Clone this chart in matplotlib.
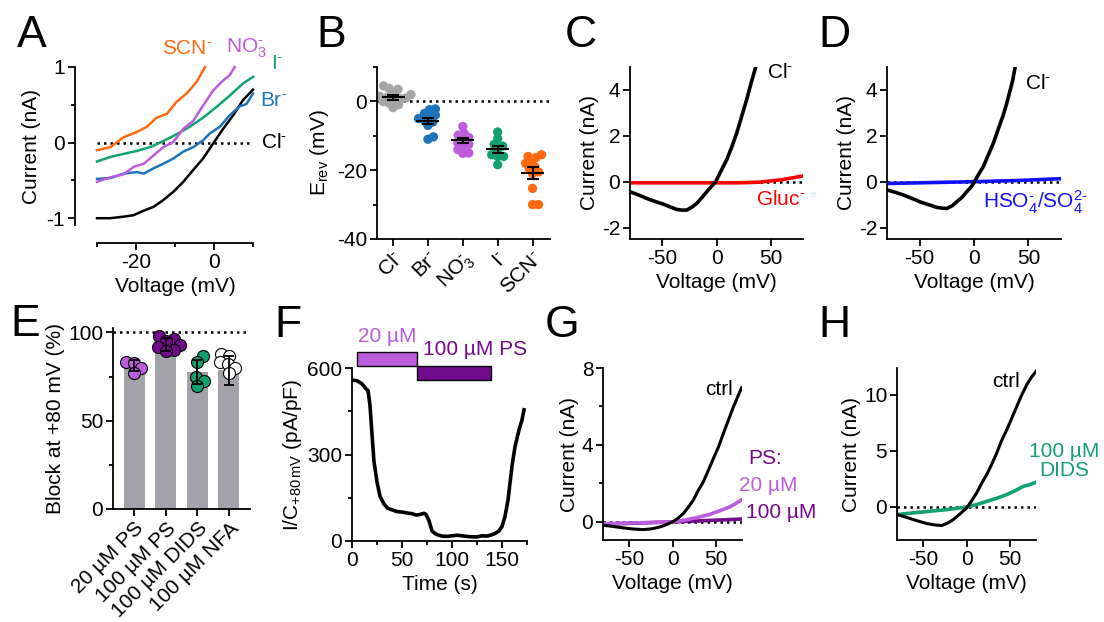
import numpy as np
import matplotlib
matplotlib.use("Agg")
import matplotlib.pyplot as plt
from matplotlib.patches import Rectangle

plt.rcParams['font.family'] = ['Liberation Sans', 'DejaVu Sans']
plt.rcParams['mathtext.fontset'] = 'custom'
plt.rcParams['mathtext.rm'] = 'Liberation Sans'
plt.rcParams['mathtext.it'] = 'Liberation Sans:italic'
plt.rcParams['mathtext.bf'] = 'Liberation Sans:bold'
plt.rcParams['mathtext.default'] = 'regular'
plt.rcParams['axes.unicode_minus'] = False

# ── colours ──
BLACK = "#000000"
ORANGE = "#ff6a10"
LPURPLE = "#bb5ddc"
DPURPLE = "#730a8c"
GREEN = "#12a070"
BLUE = "#1f73b8"
GRAY = "#a6a6a6"
BARGRAY = "#a3a2a8"
RED = "#ff0000"
PBLUE = "#1010ff"

M = r"^{\text{-}}"   # short superscript minus, as in the original

# ── A: I-V ramps, different anions ──
a_v_cl = [-30, -26.6, -23.2, -20.6, -18, -15.5, -13, -10.4, -7.9, -5.3, -2.8, -0.2, 2.3, 4.9, 7.4, 10]
a_i_cl = [-1.0, -1.0, -0.98, -0.96, -0.9, -0.85, -0.76, -0.65, -0.52, -0.36, -0.21, -0.01, 0.18, 0.36, 0.56, 0.70]
a_v_br = [-30, -26.6, -23.2, -19.8, -18, -15.5, -13, -10.4, -7.9, -5.3, -2.8, -1.1, 1.5, 4, 6.6, 8.3, 10]
a_i_br = [-0.48, -0.47, -0.41, -0.39, -0.41, -0.34, -0.28, -0.21, -0.12, -0.06, 0.03, 0.12, 0.21, 0.36, 0.48, 0.51, 0.65]
a_v_no3 = [-30, -26.6, -23.2, -20.6, -18, -15.5, -13, -10.4, -7.9, -5.3, -2.8, -0.2, 2.3, 4, 5.3]
a_i_no3 = [-0.52, -0.46, -0.42, -0.32, -0.28, -0.17, -0.06, 0.01, 0.18, 0.29, 0.49, 0.69, 0.82, 0.89, 1.0]
a_v_i = [-30, -26.6, -23.2, -19.8, -16.4, -13, -9.6, -6.2, -2.8, 0.6, 4, 7.4, 10]
a_i_i = [-0.25, -0.19, -0.15, -0.11, -0.06, 0.02, 0.11, 0.21, 0.33, 0.47, 0.62, 0.78, 0.87]
a_v_scn = [-30, -26.6, -23.2, -19.8, -17.2, -14.7, -12.1, -9.6, -7, -4.5, -2.3]
a_i_scn = [-0.1, -0.06, 0.07, 0.14, 0.21, 0.33, 0.38, 0.54, 0.65, 0.80, 1.0]

# ── B: reversal potentials ──
b_labels = ["Cl$" + M + "$", "Br$" + M + "$", "NO$_3" + M + "$", "I$" + M + "$", "SCN$" + M + "$"]
b_cl = [4.5, 3.5, 3.8, 2.5, 2, 1.5, 1, 0.5, 0, -0.5, -1, -1.8, 0.8, 1.2]
b_br = [-2.2, -2.4, -3.5, -4, -4.5, -5, -5.5, -6, -7, -10.3, -11]
b_no3 = [-7.3, -9.3, -9.8, -10.5, -11, -12, -12.5, -13, -14, -15, -15.1]
b_i = [-8.9, -10.8, -12.5, -13, -14, -15.5, -16, -16, -18.4]
b_scn = [-15.5, -16, -16.3, -17.5, -18, -19, -19.5, -20.5, -21, -25.3, -30, -30]
b_mean = [1.2, -5.7, -11.3, -13.9, -20.8]
b_sem = [0.7, 0.9, 0.8, 1.0, 1.8]

# ── C / D: Cl- vs impermeant anions ──
c_v_cl = [-80, -72, -64.6, -57, -49.2, -43, -36.8, -32, -27.6, -23, -18.3, -14, -9, -5, -0.7,
          4, 9.4, 14, 18.7, 23, 27.9, 32, 36.5]
c_i_cl = [-0.44, -0.58, -0.73, -0.86, -0.98, -1.1, -1.21, -1.24, -1.24, -1.12, -0.95, -0.72,
          -0.44, -0.22, 0.0, 0.45, 0.95, 1.5, 2.12, 2.8, 3.58, 4.3, 5.04]
c_v_gluc = [-80, -40, 0, 20, 40, 60, 80]
c_i_gluc = [-0.05, -0.05, -0.05, -0.05, -0.02, 0.08, 0.25]
d_v_cl = [-80, -72, -65, -57, -49.7, -42, -34.3, -30, -25, -20, -16, -11, -6.7, -3, 0, 4, 8.6,
          13, 17.8, 22, 27, 30, 33, 35.5, 37.7]
d_i_cl = [-0.36, -0.47, -0.58, -0.73, -0.88, -1.0, -1.12, -1.15, -1.17, -1.05, -0.88, -0.68,
          -0.44, -0.25, -0.04, 0.3, 0.66, 1.15, 1.68, 2.25, 2.92, 3.4, 3.94, 4.4, 4.96]
d_v_so4 = [-80, -40, 0, 40, 80]
d_i_so4 = [-0.08, -0.04, 0.0, 0.05, 0.13]

# ── E: block at +80 mV ──
e_labels = ["20 µM PS", "100 µM PS", "100 µM DIDS", "100 µM NFA"]
e_mean = [81.2, 93.2, 77.5, 78.5]
e_sd = [3.0, 3.5, 6.8, 8.0]
e_ps20 = [83.5, 82.5, 80, 77]
e_ps100 = [98, 96, 95, 93, 91.5, 90, 89.5]
e_dids = [86.5, 83, 74.5, 72.5, 69.5]
e_nfa = [87.5, 86.5, 83, 82, 80, 77]

# ── F: time course ──
f_t = [0, 5, 10, 14, 16, 18, 20, 22, 25, 28, 32, 36, 40, 45, 51, 55, 60, 64, 68, 72, 74, 77, 80,
       83, 86, 90, 95, 100, 105, 110, 117, 125, 130, 135, 140, 143, 147, 150, 153, 156, 160, 163,
       167, 170, 172]
f_y = [558, 556, 545, 528, 522, 470, 370, 275, 205, 155, 128, 113, 108, 102, 100, 97, 95, 90, 92,
       96, 92, 70, 35, 26, 21, 17, 16, 18, 20, 18, 15, 14, 18, 17, 22, 26, 35, 50, 85, 142, 260,
       327, 385, 420, 455]
f_app_lab = ["20 µM", "100 µM PS"]
f_app_start = [5.3, 65]
f_app_end = [65, 139]
f_app_lo = [608, 557]
f_app_hi = [656, 608]

# ── G: PS block ──
g_v_ctrl = [-80, -68, -56.6, -45, -33.6, -24, -14.4, -7, 0, 6, 12.4, 18, 23.9, 29, 35.4, 41, 47,
            53, 58.5, 64, 70, 75, 79.6]
g_i_ctrl = [-0.17, -0.24, -0.31, -0.37, -0.4, -0.36, -0.26, -0.14, 0.0, 0.18, 0.43, 0.75, 1.13,
            1.58, 2.08, 2.65, 3.29, 3.9, 4.59, 5.25, 5.97, 6.5, 6.98]
g_v_ps20 = [-80, -60, -40, -20, 0, 15, 31.6, 42, 50.8, 58, 66, 73, 80]
g_i_ps20 = [-0.09, -0.07, -0.05, -0.02, 0.0, 0.1, 0.26, 0.38, 0.52, 0.64, 0.78, 0.96, 1.16]
g_v_ps100 = [-80, -40, 0, 40, 80]
g_i_ps100 = [-0.12, -0.06, 0.0, 0.07, 0.15]

# ── H: DIDS block ──
h_v_ctrl = [-80, -70, -61.2, -53, -45.8, -37, -28.6, -22, -15.2, -8, 0.2, 6, 11.7, 17, 23.2, 29,
            34.8, 40, 46.3, 52, 57.8, 63, 69.3, 75, 80]
h_i_ctrl = [-0.68, -0.9, -1.13, -1.32, -1.48, -1.6, -1.66, -1.45, -1.13, -0.65, -0.09, 0.55,
            1.25, 2.05, 2.88, 3.8, 4.81, 5.85, 6.88, 7.9, 8.96, 9.9, 10.9, 11.6, 12.1]
h_v_dids = [-80, -67, -53.5, -38, -22.8, -11, 0, 12, 23.2, 35, 46.3, 56, 65.4, 72, 80]
h_i_dids = [-0.68, -0.57, -0.47, -0.35, -0.24, -0.12, 0.0, 0.22, 0.5, 0.78, 1.1, 1.45, 1.84,
            1.97, 2.2]

W, H = 1104, 622
fig = plt.figure(figsize=(W / 100, H / 100), dpi=100)


def add_ax(l, t, r, b):
    return fig.add_axes([l / W, 1 - b / H, (r - l) / W, (b - t) / H])


def style(ax):
    for s in ["top", "right"]:
        ax.spines[s].set_visible(False)
    for s in ["left", "bottom"]:
        ax.spines[s].set_linewidth(1.3)
    ax.tick_params(which="major", direction="out", length=5, width=1.3, labelsize=15, pad=2)
    ax.tick_params(which="minor", direction="out", length=3, width=1.3)


def swarm(vals, x0, sx, sy, d):
    # simple beeswarm: sx, sy = px per data unit, d = min distance px
    placed, out = [], np.zeros(len(vals))
    for i in np.argsort(vals):
        y = vals[i] * sy
        for k in range(400):
            off = (k + 1) // 2 * 0.5 * (1 if k % 2 else -1)
            if all((off - px) ** 2 + (y - py) ** 2 >= d ** 2 for px, py in placed):
                break
        placed.append((off, y))
        out[i] = x0 + off / sx
    return out


FS = 15
DOT = dict(color="black", linestyle=(0, (1, 1.6)), linewidth=1.8, zorder=1)

# ---------- A ----------
ax = add_ax(97, 67, 253, 225)
style(ax)
ax.spines["left"].set_position(("outward", 16))
ax.spines["bottom"].set_position(("outward", 13))
ax.plot([-30, 10], [0, 0], **DOT)
for v, i, c in [(a_v_cl, a_i_cl, BLACK), (a_v_i, a_i_i, GREEN), (a_v_br, a_i_br, BLUE),
                (a_v_no3, a_i_no3, LPURPLE), (a_v_scn, a_i_scn, ORANGE)]:
    ax.plot(v, i, color=c, lw=1.8, clip_on=False)
ax.set_xlim(-30, 10)
ax.set_ylim(-1.09, 1)
ax.set_xticks([-20, 0])
ax.set_xticks([-30, -10, 10], minor=True)
ax.set_yticks([-1, 0, 1])
ax.set_yticks([-0.5, 0.5], minor=True)
ax.set_xlabel("Voltage (mV)", fontsize=FS)
ax.set_ylabel("Current (nA)", fontsize=FS)
ax.text(-6.8, 1.25, "SCN$" + M + "$", color=ORANGE, fontsize=FS, ha="center", va="center")
ax.text(8.3, 1.25, "NO$_3" + M + "$", color=LPURPLE, fontsize=FS, ha="center", va="center")
ax.text(16.2, 1.05, "I$" + M + "$", color=GREEN, fontsize=FS, ha="center", va="center")
ax.text(15.2, 0.56, "Br$" + M + "$", color=BLUE, fontsize=FS, ha="center", va="center")
ax.text(12.0, 0.0, "Cl$" + M + "$", color=BLACK, fontsize=FS, ha="left", va="center")

# ---------- B ----------
ax = add_ax(377, 67, 550, 239)
style(ax)
ax.axhline(0, **DOT)
groups = [b_cl, b_br, b_no3, b_i, b_scn]
cols = [GRAY, BLUE, LPURPLE, GREEN, ORANGE]
for k, (vals, c) in enumerate(zip(groups, cols)):
    xs = swarm(np.array(vals, float), k, 35, 3.45, 6.0)
    ax.scatter(xs, vals, s=45, color=c, edgecolors="none", zorder=2)
    ax.hlines(b_mean[k], k - 0.33, k + 0.33, color="black", lw=1.5, zorder=3)
    ax.errorbar(k, b_mean[k], yerr=b_sem[k], fmt="none", ecolor="black", elinewidth=1.5,
                capsize=4.3, capthick=1.5, zorder=3)
ax.set_xlim(-0.46, 4.5)
ax.set_ylim(-40, 10)
ax.set_yticks([-40, -20, 0])
ax.set_yticks([-30, -10, 10], minor=True)
ax.set_xticks(range(5))
ax.set_xticklabels(b_labels, rotation=45, ha="right", va="top", rotation_mode="anchor", fontsize=FS)
ax.set_ylabel("E$_{rev}$ (mV)", fontsize=FS)

# ---------- C / D ----------
for (l, r), vcl, icl, v2, i2, c2 in [((630, 803), c_v_cl, c_i_cl, c_v_gluc, c_i_gluc, RED),
                                    ((887, 1061), d_v_cl, d_i_cl, d_v_so4, d_i_so4, PBLUE)]:
    ax = add_ax(l, 67, r, 239)
    style(ax)
    ax.plot([-80, 80], [0, 0], **DOT)
    ax.plot(v2, i2, color=c2, lw=2.6, zorder=2)
    ax.plot(vcl, icl, color="black", lw=2.6, zorder=3, solid_joinstyle="round")
    ax.set_xlim(-80, 80)
    ax.set_ylim(-2.5, 5)
    ax.set_xticks([-50, 0, 50])
    ax.set_yticks([-2, 0, 2, 4])
    ax.set_xlabel("Voltage (mV)", fontsize=FS)
    ax.set_ylabel("Current (nA)", fontsize=FS, labelpad=2)
    if c2 == RED:
        ax.text(47, 4.75, "Cl$" + M + "$", fontsize=FS, ha="left", va="center")
        ax.text(36.5, -0.78, "Gluc$" + M + "$", color=RED, fontsize=FS, ha="left", va="center")
    else:
        ax.text(47, 4.3, "Cl$" + M + "$", fontsize=FS, ha="left", va="center")
        ax.text(8.3, -0.91, r"HSO$_4^{\text{-}}$/SO$_4^{\text{2-}}$", color=PBLUE, fontsize=FS,
                ha="left", va="center")

# ---------- E ----------
ax = add_ax(113, 328, 250, 509)
style(ax)
ax.plot([-0.67, 3.62], [100, 100], **DOT)
ex = np.arange(4)
ax.bar(ex, e_mean, width=0.66, color=BARGRAY, zorder=1)
epts = [e_ps20, e_ps100, e_dids, e_nfa]
efc = [LPURPLE, DPURPLE, GREEN, "white"]
for k, (vals, fc) in enumerate(zip(epts, efc)):
    xs = swarm(np.array(vals, float), k, 31.5, 1.76, 8.0)
    ax.scatter(xs, vals, s=75, facecolor=fc, edgecolors="black", linewidths=0.8, zorder=2)
ax.errorbar(ex, e_mean, yerr=e_sd, fmt="none", ecolor="black", elinewidth=1.3, capsize=3.6,
            capthick=1.3, zorder=3)
ax.set_xlim(-0.67, 3.67)
ax.set_ylim(0, 102.5)
ax.set_yticks([0, 50, 100])
ax.set_yticks([25, 75], minor=True)
ax.set_xticks(ex)
ax.set_xticklabels(e_labels, rotation=45, ha="right", va="top", rotation_mode="anchor", fontsize=FS)
ax.set_ylabel("Block at +80 mV (%)", fontsize=FS, labelpad=2)

# ---------- F ----------
ax = add_ax(352, 368, 527, 541)
style(ax)
ax.plot(f_t, f_y, color="black", lw=2.6, solid_joinstyle="round")
fcols = [LPURPLE, DPURPLE]
for k in range(2):
    ax.add_patch(Rectangle((f_app_start[k], f_app_lo[k]), f_app_end[k] - f_app_start[k],
                           f_app_hi[k] - f_app_lo[k], facecolor=fcols[k], edgecolor="black",
                           lw=1.0, clip_on=False, zorder=4))
ax.text(6, 709, f_app_lab[0], color=LPURPLE, fontsize=FS, ha="left", va="center")
ax.text(71, 664, f_app_lab[1], color=DPURPLE, fontsize=FS, ha="left", va="center")
ax.set_xlim(0, 175)
ax.set_ylim(0, 600)
ax.set_xticks([0, 50, 100, 150])
ax.set_xticks([25, 75, 125, 175], minor=True)
ax.set_yticks([0, 300, 600])
ax.set_yticks([150, 450], minor=True)
ax.set_xlabel("Time (s)", fontsize=FS)
ax.set_ylabel("I/C$_{+80\\,mV}$ (pA/pF)", fontsize=FS, labelpad=2)

# ---------- G ----------
ax = add_ax(603, 368, 742, 540)
style(ax)
ax.plot([-80, 80], [0, 0], **DOT)
ax.plot(g_v_ps100, g_i_ps100, color=DPURPLE, lw=2.6, zorder=2)
ax.plot(g_v_ps20, g_i_ps20, color=LPURPLE, lw=2.6, zorder=2)
ax.plot(g_v_ctrl, g_i_ctrl, color="black", lw=2.2, zorder=3)
ax.set_xlim(-80, 80)
ax.set_ylim(-0.94, 8)
ax.set_xticks([-50, 0, 50])
ax.set_yticks([0, 4, 8])
ax.set_yticks([2, 6], minor=True)
ax.set_xlabel("Voltage (mV)", fontsize=FS)
ax.set_ylabel("Current (nA)", fontsize=FS, labelpad=2)
ax.text(70, 6.9, "ctrl", fontsize=FS, ha="right", va="center")
ax.text(107, 3.3, "PS:", color=DPURPLE, fontsize=FS, ha="center", va="center")
ax.text(110, 1.9, "20 µM", color=LPURPLE, fontsize=FS, ha="center", va="center")
ax.text(85, 0.47, "100 µM", color=DPURPLE, fontsize=FS, ha="left", va="center")

# ---------- H ----------
ax = add_ax(897, 368, 1036, 540)
style(ax)
ax.plot([-80, 80], [0, 0], **DOT)
ax.plot(h_v_dids, h_i_dids, color=GREEN, lw=2.6, zorder=2)
ax.plot(h_v_ctrl, h_i_ctrl, color="black", lw=2.2, zorder=3)
ax.set_xlim(-80, 80)
ax.set_ylim(-2.95, 12.4)
ax.set_xticks([-50, 0, 50])
ax.set_yticks([0, 5, 10])
ax.set_xlabel("Voltage (mV)", fontsize=FS)
ax.set_ylabel("Current (nA)", fontsize=FS, labelpad=2)
ax.text(62, 11.2, "ctrl", fontsize=FS, ha="right", va="center")
ax.text(113, 4.1, "100 µM\nDIDS", color=GREEN, fontsize=FS, ha="center", va="center",
        linespacing=1.0)

# ---------- panel letters ----------
for lab, x, y in [("A", 17, 47), ("B", 316, 47), ("C", 565, 47), ("D", 818, 47),
                  ("E", 10, 336), ("F", 274, 337), ("G", 545, 337), ("H", 818, 337)]:
    fig.text(x / W, 1 - y / H, lab, fontsize=32, ha="left", va="baseline")

fig.savefig("out.png", dpi=100)
